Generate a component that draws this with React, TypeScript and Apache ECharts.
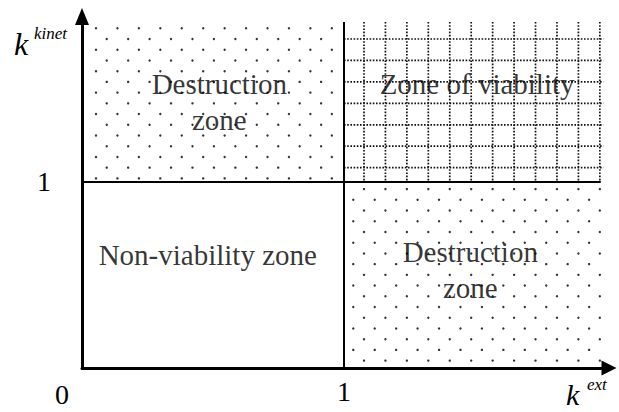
import React, { useEffect, useRef } from "react";
import * as echarts from "echarts";

// ---- data ----
const X_MAX = 2;
const Y_MAX = 1.86;
const X_TICKS = [0, 1];
const Y_TICKS = [1];

// zones: left, right, bottom, top, pattern (0 none, 1 dots, 2 dotted grid)
const ZONE_X0 = [0, 1, 0, 1];
const ZONE_X1 = [1, 1.99, 1, 1.99];
const ZONE_Y0 = [1, 1, 0, 0];
const ZONE_Y1 = [1.86, 1.86, 1, 1];
const ZONE_PATTERN = [1, 2, 0, 1];

const LABEL_TEXT = ["Destruction\nzone", "Zone of viability", "Non-viability zone", "Destruction\nzone"];
const LABEL_X = [0.524, 1.508, 0.48, 1.482];
const LABEL_Y = [1.432, 1.528, 0.609, 0.527];

const H_DIVIDER = [[0, 1], [1.98, 1]];
const V_DIVIDER = [[1, 0], [1, 1.86]];

const SERIF = "'Liberation Serif', 'Times New Roman', serif";

export default function App() {
  const ref = useRef<HTMLDivElement>(null);
  useEffect(() => {
    if (!ref.current) return;
    const chart = echarts.init(ref.current, null, { renderer: "svg" });
    const zoneData = ZONE_X0.map((x0, k) => [x0, ZONE_X1[k], ZONE_Y0[k], ZONE_Y1[k], ZONE_PATTERN[k]]);
    const STEP = 10.72;
    const option: any = {
      animation: false,
      backgroundColor: "#fff",
      grid: { left: 82, right: 13, top: 22, bottom: 44, outerBoundsMode: "none", containLabel: false },
      xAxis: {
        type: "value",
        min: 0,
        max: X_MAX,
        interval: 1,
        splitLine: { show: false },
        axisTick: { show: false },
        axisLine: {
          lineStyle: { color: "#000", width: 3 },
          symbol: ["none", "triangle"],
          symbolSize: [15, 15],
          symbolOffset: [0, 3],
        },
        axisLabel: {
          margin: 9,
          fontFamily: SERIF,
          fontSize: 28,
          color: "#000",
          formatter: (v: number) => (X_TICKS.indexOf(v) >= 0 && v !== 0 ? String(v) : ""),
        },
      },
      yAxis: {
        type: "value",
        min: 0,
        max: Y_MAX,
        interval: 1,
        splitLine: { show: false },
        axisTick: { show: false },
        axisLine: {
          lineStyle: { color: "#000", width: 3 },
          symbol: ["none", "triangle"],
          symbolSize: [14, 17],
          symbolOffset: [0, 5.5],
        },
        axisLabel: {
          margin: 31,
          fontFamily: SERIF,
          fontSize: 28,
          color: "#000",
          formatter: (v: number) => (Y_TICKS.indexOf(v) >= 0 ? String(v) : ""),
        },
      },
      graphic: [
        { type: "text", left: 55, top: 380, style: { text: "0", font: `28px ${SERIF}`, fill: "#000" } },
        { type: "text", x: 14, y: 60, style: { text: "k", font: `italic 32px ${SERIF}`, fill: "#000", verticalAlign: "bottom" } },
        { type: "text", x: 34, y: 42, style: { text: "kinet", font: `italic 17px ${SERIF}`, fill: "#000", verticalAlign: "bottom" } },
        { type: "text", x: 566, y: 409, style: { text: "k", font: `italic 30px ${SERIF}`, fill: "#000", verticalAlign: "bottom" } },
        { type: "text", x: 587, y: 393, style: { text: "ext", font: `italic 17px ${SERIF}`, fill: "#000", verticalAlign: "bottom" } },
      ],
      series: [
        {
          type: "custom",
          z: 1,
          silent: true,
          clip: false,
          encode: { x: [0, 1], y: [2, 3] },
          data: zoneData,
          renderItem: (params: any, api: any) => {
            const x0 = api.value(0), x1 = api.value(1), y0 = api.value(2), y1 = api.value(3), p = api.value(4);
            const tl = api.coord([x0, y1]);
            const br = api.coord([x1, y0]);
            const origin = api.coord([0, Y_MAX]);
            const ox = origin[0] + 14;
            const oy = origin[1] + 6.3;
            const children: any[] = [];
            const iMin = Math.ceil((tl[0] + 6 - ox) / STEP);
            const iMax = Math.floor((br[0] - ox) / STEP);
            const jMin = Math.ceil((tl[1] + 2 - oy) / STEP);
            const jMax = Math.floor((br[1] - 2 - oy) / STEP);
            if (p === 1) {
              for (let j = jMin; j <= jMax; j++) {
                for (let i = iMin; i <= iMax; i++) {
                  if ((((i + j) % 2) + 2) % 2 !== 0) continue;
                  const cx = ox + i * STEP;
                  if (cx > br[0] - 2) continue;
                  children.push({
                    type: "circle",
                    shape: { cx, cy: oy + j * STEP, r: 1.2 },
                    style: { fill: "#333" },
                  });
                }
              }
            } else if (p === 2) {
              for (let i = iMin; i <= iMax; i++) {
                if (((i % 2) + 2) % 2 !== 1) continue;
                const x = ox + i * STEP;
                children.push({
                  type: "line",
                  shape: { x1: x, y1: tl[1], x2: x, y2: br[1] },
                  style: { stroke: "#111", lineWidth: 1.7, lineDash: [1.6, 1.6] },
                });
              }
              for (let j = jMin; j <= jMax; j++) {
                if (((j % 2) + 2) % 2 !== 1) continue;
                const y = oy + j * STEP;
                children.push({
                  type: "line",
                  shape: { x1: tl[0], y1: y, x2: br[0], y2: y },
                  style: { stroke: "#111", lineWidth: 1.7, lineDash: [1.6, 1.6] },
                });
              }
            }
            return { type: "group", children };
          },
        },
        {
          type: "line",
          z: 3,
          data: H_DIVIDER,
          symbol: "none",
          silent: true,
          lineStyle: { color: "#000", width: 2 },
        },
        {
          type: "line",
          z: 3,
          data: V_DIVIDER,
          symbol: "none",
          silent: true,
          lineStyle: { color: "#000", width: 2 },
        },
        {
          type: "scatter",
          z: 5,
          symbolSize: 0,
          silent: true,
          data: LABEL_TEXT.map((t, k) => ({ value: [LABEL_X[k], LABEL_Y[k]], name: t })),
          label: {
            show: true,
            position: "inside",
            formatter: (p: any) => p.name,
            fontFamily: SERIF,
            fontSize: 29,
            lineHeight: 36,
            color: "#000",
            align: "center",
            verticalAlign: "middle",
          },
        },
      ],
    };
    chart.setOption(option);
    return () => chart.dispose();
  }, []);
  return (
    <div
      ref={ref}
      style={{ position: "fixed", left: 0, top: 0, width: 619, height: 412, background: "#fff" }}
    />
  );
}
